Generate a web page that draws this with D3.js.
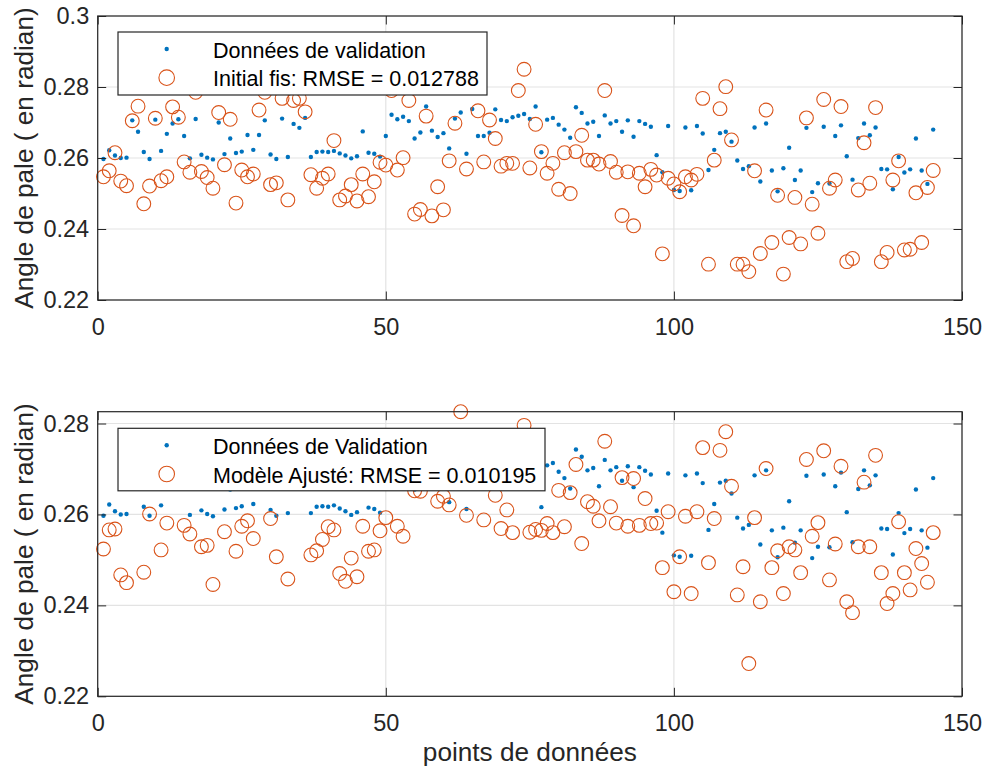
<!DOCTYPE html>
<html><head><meta charset="utf-8">
<script src="https://cdn.jsdelivr.net/npm/d3@7"></script>
<style>body{margin:0;background:#fff}svg{display:block}text{font-family:"Liberation Sans",Arial,sans-serif}</style>
</head><body>
<svg id="c" width="985" height="771"></svg>
<script>
const validation = [0.2597,0.2622,0.2607,0.2600,0.2601,0.2706,0.2674,0.2617,0.2597,0.2708,0.2620,0.2668,0.2697,0.2709,0.2662,0.2599,0.2710,0.2609,0.2601,0.2596,0.2700,0.2611,0.2655,0.2614,0.2618,0.2665,0.2623,0.2665,0.2706,0.2610,0.2597,0.2711,0.2603,0.2696,0.2685,0.2713,0.2603,0.2617,0.2618,0.2617,0.2620,0.2613,0.2607,0.2599,0.2605,0.2675,0.2615,0.2612,0.2604,0.2662,0.2722,0.2709,0.2716,0.2704,0.2655,0.2672,0.2745,0.2677,0.2659,0.2670,0.2627,0.2711,0.2728,0.2612,0.2738,0.2662,0.2662,0.2671,0.2737,0.2707,0.2704,0.2715,0.2719,0.2724,0.2710,0.2745,0.2616,0.2708,0.2713,0.2694,0.2680,0.2657,0.2743,0.2727,0.2697,0.2702,0.2662,0.2720,0.2697,0.2704,0.2674,0.2706,0.2660,0.2704,0.2696,0.2688,0.2608,0.2560,0.2690,0.2510,0.2507,0.2686,0.2509,0.2690,0.2669,0.2566,0.2623,0.2670,0.2674,0.2646,0.2593,0.2569,0.2577,0.2686,0.2534,0.2697,0.2565,0.2506,0.2571,0.2629,0.2538,0.2565,0.2685,0.2504,0.2529,0.2688,0.2528,0.2662,0.2692,0.2605,0.2539,0.2656,0.2697,0.2664,0.2686,0.2569,0.2568,0.2512,0.2603,0.2559,0.2568,0.2655,0.2565,0.2527,0.2680];
const initialFis = [0.2547,0.2564,0.2615,0.2535,0.2522,0.2705,0.2746,0.2471,0.2521,0.2712,0.2536,0.2547,0.2744,0.2715,0.2589,0.2560,0.2785,0.2562,0.2545,0.2515,0.2728,0.2581,0.2709,0.2473,0.2566,0.2547,0.2555,0.2735,0.2785,0.2525,0.2530,0.2768,0.2482,0.2762,0.2768,0.2730,0.2553,0.2515,0.2543,0.2555,0.2649,0.2482,0.2493,0.2525,0.2479,0.2555,0.2491,0.2533,0.2588,0.2580,0.2790,0.2566,0.2601,0.2762,0.2442,0.2455,0.2718,0.2437,0.2519,0.2454,0.2592,0.2698,0.2830,0.2569,0.2820,0.2733,0.2589,0.2707,0.2655,0.2577,0.2585,0.2585,0.2790,0.2850,0.2572,0.2695,0.2618,0.2557,0.2585,0.2512,0.2615,0.2500,0.2618,0.2664,0.2594,0.2594,0.2583,0.2790,0.2590,0.2560,0.2438,0.2561,0.2409,0.2557,0.2519,0.2568,0.2552,0.2330,0.2543,0.2527,0.2505,0.2547,0.2538,0.2554,0.2768,0.2301,0.2594,0.2739,0.2801,0.2651,0.2301,0.2301,0.2280,0.2564,0.2331,0.2735,0.2362,0.2495,0.2273,0.2376,0.2489,0.2358,0.2713,0.2470,0.2388,0.2765,0.2515,0.2538,0.2745,0.2308,0.2317,0.2510,0.2643,0.2529,0.2742,0.2308,0.2334,0.2538,0.2592,0.2341,0.2343,0.2502,0.2362,0.2517,0.2565];
const modeleAjuste = [0.2524,0.2566,0.2568,0.2467,0.2450,0.2720,0.2730,0.2473,0.2601,0.2720,0.2522,0.2581,0.2730,0.2720,0.2576,0.2557,0.2740,0.2529,0.2532,0.2446,0.2720,0.2562,0.2720,0.2519,0.2574,0.2586,0.2547,0.2730,0.2740,0.2591,0.2507,0.2740,0.2458,0.2730,0.2740,0.2720,0.2511,0.2520,0.2545,0.2573,0.2566,0.2470,0.2453,0.2504,0.2463,0.2574,0.2519,0.2522,0.2564,0.2593,0.2740,0.2574,0.2552,0.2720,0.2652,0.2651,0.2730,0.2720,0.2629,0.2640,0.2621,0.2720,0.2826,0.2598,0.2730,0.2720,0.2588,0.2720,0.2642,0.2569,0.2610,0.2560,0.2730,0.2796,0.2561,0.2567,0.2565,0.2580,0.2560,0.2653,0.2573,0.2648,0.2710,0.2536,0.2628,0.2618,0.2586,0.2761,0.2617,0.2581,0.2681,0.2574,0.2679,0.2576,0.2635,0.2580,0.2581,0.2483,0.2606,0.2430,0.2507,0.2596,0.2426,0.2606,0.2747,0.2494,0.2591,0.2741,0.2782,0.2662,0.2423,0.2485,0.2272,0.2593,0.2408,0.2701,0.2483,0.2520,0.2426,0.2529,0.2522,0.2472,0.2721,0.2552,0.2582,0.2740,0.2456,0.2535,0.2706,0.2408,0.2384,0.2529,0.2671,0.2529,0.2730,0.2472,0.2404,0.2426,0.2584,0.2472,0.2434,0.2525,0.2492,0.2451,0.2560];
const xTicks = [0,50,100,150];
const yTicksTop = [0.22,0.24,0.26,0.28,0.3];
const yTicksBottom = [0.22,0.24,0.26,0.28];
const legendTop = ["Données de validation","Initial fis: RMSE = 0.012788"];
const legendBottom = ["Données de Validation","Modèle Ajusté: RMSE = 0.010195"];
const yLabel = "Angle de pale ( en radian)";
const xLabel = "points de données";

const svg = d3.select("#c");
const L = 97.7, R = 962;
const blue = "#0072BD", orange = "#D95319", axc = "#262626";
const tickFont = 23.5, legFont = 21.5, labFont = 26.2;

function panel(top, bottom, yDomain, yTicks, series, legend, legBox, showXLabel) {
  const x = d3.scaleLinear().domain([0,150]).range([L,R]);
  const y = d3.scaleLinear().domain(yDomain).range([bottom, top]);
  const g = svg.append("g");
  g.selectAll(".gx").data(xTicks).join("line").attr("x1",d=>x(d)).attr("x2",d=>x(d)).attr("y1",top).attr("y2",bottom).attr("stroke","#e3e3e3").attr("stroke-width",1.2);
  g.selectAll(".gy").data(yTicks).join("line").attr("x1",L).attr("x2",R).attr("y1",d=>y(d)).attr("y2",d=>y(d)).attr("stroke","#e3e3e3").attr("stroke-width",1.2);
  const idx = d3.range(1, validation.length+1);
  g.selectAll(".b").data(validation).join("circle").attr("cx",(d,i)=>x(idx[i])).attr("cy",d=>y(d)).attr("r",2.2).attr("fill",blue);
  g.selectAll(".o").data(series).join("circle").attr("cx",(d,i)=>x(idx[i])).attr("cy",d=>y(d)).attr("r",6.9).attr("fill","none").attr("stroke",orange).attr("stroke-width",1.1);
  const tl = 8.5;
  const ax = g.append("g").attr("transform",`translate(0,${bottom})`).call(d3.axisBottom(x).tickValues(xTicks).tickSizeInner(-tl).tickSizeOuter(0).tickFormat(d3.format("d")));
  ax.select(".domain").remove();
  ax.selectAll("line").attr("stroke",axc);
  ax.selectAll("text").attr("font-size",tickFont).attr("fill",axc).attr("dy",null).attr("y",34.5);
  const axT = g.append("g").attr("transform",`translate(0,${top})`).call(d3.axisTop(x).tickValues(xTicks).tickSizeInner(-tl).tickSizeOuter(0).tickFormat(""));
  axT.select(".domain").remove(); axT.selectAll("line").attr("stroke",axc);
  const ay = g.append("g").attr("transform",`translate(${L},0)`).call(d3.axisLeft(y).tickValues(yTicks).tickSizeInner(-tl).tickSizeOuter(0).tickFormat(d=>String(+d.toFixed(2))));
  ay.select(".domain").remove();
  ay.selectAll("line").attr("stroke",axc);
  ay.selectAll("text").attr("font-size",tickFont).attr("fill",axc).attr("x",-8.5);
  const ayR = g.append("g").attr("transform",`translate(${R},0)`).call(d3.axisRight(y).tickValues(yTicks).tickSizeInner(-tl).tickSizeOuter(0).tickFormat(""));
  ayR.select(".domain").remove(); ayR.selectAll("line").attr("stroke",axc);
  g.append("rect").attr("x",L).attr("y",top).attr("width",R-L).attr("height",bottom-top).attr("fill","none").attr("stroke",axc).attr("stroke-width",1.2);
  g.append("text").attr("transform",`translate(32.5,${(top+bottom)/2}) rotate(-90)`).attr("text-anchor","middle").attr("font-size",labFont).attr("fill",axc).text(yLabel);
  const [lx, ly, lw, lh] = legBox;
  const lg = g.append("g");
  lg.append("rect").attr("x",lx).attr("y",ly).attr("width",lw).attr("height",lh).attr("fill","#fff").attr("stroke",axc).attr("stroke-width",1.2);
  lg.append("circle").attr("cx",lx+48.7).attr("cy",ly+17).attr("r",2.2).attr("fill",blue);
  lg.append("circle").attr("cx",lx+48.7).attr("cy",ly+45.7).attr("r",7.8).attr("fill","none").attr("stroke",orange).attr("stroke-width",1.1);
  lg.selectAll(".lt").data(legend).join("text").attr("x",lx+95).attr("y",(d,i)=>ly+26+i*28.3).attr("font-size",legFont).attr("fill","#000").text(d=>d);
  if (showXLabel) g.append("text").attr("x",(L+R)/2).attr("y",761).attr("text-anchor","middle").attr("font-size",labFont).attr("fill",axc).text(xLabel);
}
panel(16, 300, [0.22,0.3], yTicksTop, initialFis, legendTop, [118,32,369,63], false);
panel(411.7, 696.3, [0.22,0.2826], yTicksBottom, modeleAjuste, legendBottom, [118,428.3,427,62.5], true);
</script>
</body></html>
